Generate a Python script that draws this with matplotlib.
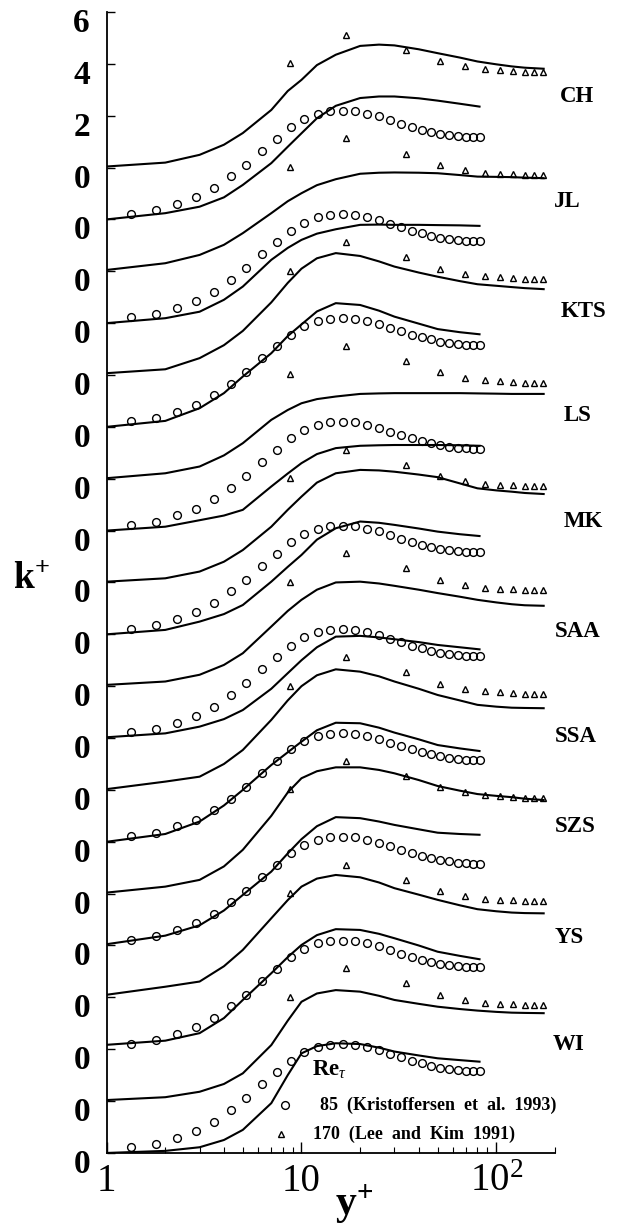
import numpy as np
import matplotlib
matplotlib.use("Agg")
import matplotlib.pyplot as plt
import matplotlib.transforms as mtransforms

# ---- DNS reference data -------------------------------------------------
# Kristoffersen et al. (1993), Re_tau = 85
dns85_y = [1.34, 1.79, 2.30, 2.87, 3.55, 4.34, 5.22, 6.28, 7.53, 8.81,
           10.3, 12.2, 14.0, 16.3, 18.9, 21.8, 25.0, 28.6, 32.6, 36.9,
           41.5, 46.4, 51.6, 57.1, 63.5, 69.6, 75.9, 82.1]
dns85_k = [0.22, 0.35, 0.59, 0.85, 1.21, 1.66, 2.11, 2.65, 3.11, 3.56,
           3.88, 4.08, 4.17, 4.19, 4.17, 4.08, 3.97, 3.82, 3.69, 3.56,
           3.46, 3.37, 3.29, 3.24, 3.20, 3.17, 3.16, 3.16]

# Lee and Kim (1991), Re_tau = 170
dns170_y = [8.7, 17.0, 34.5, 51.6, 69.4, 87.1, 104, 121.6, 139.7, 155.9, 173.4]
dns170_k = [4.02, 5.12, 4.54, 4.10, 3.90, 3.80, 3.76, 3.74, 3.70, 3.70, 3.70]

# ---- model predictions ---------------------------------------------------
y85 = [1, 2, 3, 4, 5, 7, 8.5, 10, 12, 15, 20, 25, 30, 40, 50, 65, 82]
y170 = [1, 2, 3, 4, 5, 7, 8.5, 10, 12, 15, 20, 25, 30, 40, 50, 65, 80,
        100, 120, 140, 175]

wi_85 = [0.00, 0.08, 0.22, 0.50, 0.89, 1.92, 3.00, 3.84, 4.12, 4.23, 4.20,
         4.06, 3.91, 3.76, 3.65, 3.58, 3.52]
wi_170 = [0.04, 0.15, 0.36, 0.66, 1.07, 2.16, 3.10, 3.83, 4.15, 4.28, 4.22,
          4.06, 3.90, 3.75, 3.64, 3.55, 3.49, 3.44, 3.41, 3.40, 3.39]
ys_85 = [0.17, 0.33, 0.62, 1.20, 1.90, 2.93, 3.55, 4.02, 4.40, 4.63, 4.60,
         4.45, 4.28, 4.00, 3.76, 3.60, 3.47]
ys_170 = [0.10, 0.41, 0.61, 1.20, 1.83, 3.05, 3.75, 4.27, 4.58, 4.72, 4.63,
          4.43, 4.21, 3.96, 3.76, 3.55, 3.40, 3.32, 3.27, 3.25, 3.24]
szs_85 = [0.05, 0.38, 0.78, 1.35, 1.95, 2.85, 3.55, 4.10, 4.60, 4.95, 4.91,
          4.78, 4.65, 4.48, 4.35, 4.30, 4.27]
szs_170 = [0.04, 0.27, 0.53, 1.05, 1.69, 3.00, 3.90, 4.45, 4.72, 4.87, 4.87,
           4.77, 4.64, 4.38, 4.15, 3.97, 3.84, 3.77, 3.72, 3.66, 3.61]
ssa_85 = [0.00, 0.30, 0.78, 1.40, 2.00, 2.96, 3.45, 3.86, 4.30, 4.59, 4.57,
          4.40, 4.21, 3.95, 3.73, 3.60, 3.50]
ssa_170 = [0.03, 0.32, 0.51, 1.00, 1.54, 2.70, 3.45, 4.00, 4.42, 4.65, 4.56,
           4.38, 4.18, 3.90, 3.66, 3.45, 3.28, 3.21, 3.17, 3.16, 3.15]
saa_85 = [0.03, 0.18, 0.44, 0.73, 1.08, 1.90, 2.50, 3.00, 3.50, 3.91, 3.94,
          3.88, 3.81, 3.70, 3.59, 3.50, 3.42]
saa_170 = [0.05, 0.18, 0.44, 0.82, 1.27, 2.30, 2.90, 3.33, 3.72, 4.00, 4.03,
           3.96, 3.87, 3.72, 3.59, 3.45, 3.33, 3.23, 3.16, 3.12, 3.10]
mk_85 = [0.00, 0.17, 0.49, 0.78, 1.13, 2.03, 2.60, 3.06, 3.65, 4.09, 4.35,
         4.30, 4.22, 4.08, 3.96, 3.86, 3.79]
mk_170 = [0.03, 0.16, 0.42, 0.80, 1.25, 2.15, 2.80, 3.31, 3.85, 4.21, 4.34,
          4.32, 4.27, 4.16, 4.06, 3.82, 3.63, 3.55, 3.50, 3.45, 3.41]
ls_85 = [0.00, 0.15, 0.40, 0.58, 0.80, 1.70, 2.20, 2.60, 2.95, 3.18, 3.27,
         3.29, 3.30, 3.30, 3.30, 3.29, 3.27]
ls_170 = [0.02, 0.21, 0.47, 0.90, 1.37, 2.27, 2.65, 2.91, 3.07, 3.17, 3.27,
          3.29, 3.30, 3.30, 3.30, 3.30, 3.29, 3.28, 3.27, 3.27, 3.27]
kts_85 = [0.00, 0.23, 0.72, 1.30, 1.94, 2.84, 3.50, 3.95, 4.45, 4.77, 4.70,
          4.48, 4.25, 3.98, 3.77, 3.65, 3.57]
kts_170 = [0.07, 0.22, 0.65, 1.15, 1.70, 2.80, 3.55, 4.10, 4.50, 4.70, 4.59,
           4.38, 4.18, 3.95, 3.79, 3.62, 3.50, 3.44, 3.39, 3.35, 3.31]
jl_85 = [0.00, 0.19, 0.44, 0.90, 1.41, 2.44, 2.90, 3.21, 3.45, 3.62, 3.79,
         3.80, 3.79, 3.79, 3.78, 3.77, 3.75]
jl_170 = [0.05, 0.31, 0.63, 1.02, 1.47, 2.24, 2.70, 3.01, 3.32, 3.55, 3.76,
          3.80, 3.81, 3.80, 3.78, 3.71, 3.65, 3.64, 3.63, 3.61, 3.59]
ch_85 = [0.00, 0.24, 0.49, 0.85, 1.33, 2.17, 2.80, 3.32, 3.90, 4.38, 4.68,
         4.74, 4.74, 4.67, 4.58, 4.46, 4.35]
ch_170 = [0.04, 0.19, 0.49, 0.88, 1.33, 2.22, 2.95, 3.38, 3.95, 4.35, 4.69,
          4.74, 4.71, 4.56, 4.41, 4.24, 4.09, 3.98, 3.90, 3.85, 3.81]

models = ["WI", "YS", "SZS", "SSA", "SAA", "MK", "LS", "KTS", "JL", "CH"]
runs_85 = [wi_85, ys_85, szs_85, ssa_85, saa_85, mk_85, ls_85, kts_85, jl_85, ch_85]
runs_170 = [wi_170, ys_170, szs_170, ssa_170, saa_170, mk_170, ls_170, kts_170,
            jl_170, ch_170]

yticks = list(range(0, 46, 2))
ytick_labels = ["0"] * 20 + ["2", "4", "6"]

# ---- layout ---------------------------------------------------------------
label_x = [0.994, 1.000, 1.000, 1.000, 1.000, 1.020, 1.020, 1.012, 0.997, 1.012]
label_y = [4.17, 8.32, 12.58, 16.05, 20.10, 24.34, 28.43, 32.45, 36.68, 40.73]

plt.rcParams["font.family"] = ["Liberation Serif", "DejaVu Serif"]
plt.rcParams["mathtext.fontset"] = "custom"
plt.rcParams["mathtext.rm"] = "Liberation Serif"
plt.rcParams["mathtext.it"] = "Liberation Serif:italic"
plt.rcParams["mathtext.bf"] = "Liberation Serif:bold"

fig = plt.figure(figsize=(6.2, 12.31), dpi=100)
ax = fig.add_axes([0.172, 0.0634, 0.7231, 0.9269])

line_kw = dict(color="black", lw=1.5, solid_joinstyle="round")
circ_kw = dict(ls="none", marker="o", ms=5.6, mfc="none", mec="black", mew=1.0)
tri_kw = dict(ls="none", marker="^", ms=4.6, mfc="none", mec="black", mew=1.0)

for i, (k85, k170) in enumerate(zip(runs_85, runs_170)):
    base85 = 4 * i
    base170 = 4 * i + 2
    ax.plot(y85, np.asarray(k85) + base85, **line_kw)
    ax.plot(y170, np.asarray(k170) + base170, **line_kw)
    ax.plot(dns85_y, np.asarray(dns85_k) + base85, **circ_kw)
    ax.plot(dns170_y, np.asarray(dns170_k) + base170, **tri_kw)

# model names at the right-hand side
blend = mtransforms.blended_transform_factory(ax.transAxes, ax.transData)
for name, lx, ly in zip(models, label_x, label_y):
    ax.text(lx, ly, name, transform=blend, ha="left", va="center",
            fontsize=16.5, fontweight="bold", clip_on=False)

# legend block
ax.text(0.458, 0.0727, r"$\mathbf{Re}_{\tau}$", transform=ax.transAxes,
        ha="left", va="center", fontsize=16.5)
ax.plot([0.398], [0.042], transform=ax.transAxes, clip_on=False, **circ_kw)
ax.plot([0.390], [0.0165], transform=ax.transAxes, clip_on=False, **tri_kw)
ax.text(0.476, 0.042, "85  (Kristoffersen  et  al.  1993)", transform=ax.transAxes,
        ha="left", va="center", fontsize=13, fontweight="bold")
ax.text(0.460, 0.0165, "170  (Lee  and  Kim  1991)", transform=ax.transAxes,
        ha="left", va="center", fontsize=13, fontweight="bold")

# axes
ax.set_xscale("log")
ax.set_xlim(1, 200)
ax.set_ylim(0, 44)
ax.set_xticks([1, 10, 100])
ax.set_xticklabels(["1", "10", r"$\mathregular{10^2}$"])
ax.set_yticks(yticks)
ax.set_yticklabels(ytick_labels)
ax.tick_params(axis="x", which="major", direction="in", length=8, width=1.0,
               labelsize=28, pad=7)
ax.tick_params(axis="x", which="minor", direction="in", length=4, width=0.8)
ax.tick_params(axis="y", which="major", direction="in", length=6, width=1.0,
               labelsize=24, pad=12)
for lab in ax.get_yticklabels():
    lab.set_fontweight("bold")
    lab.set_transform(lab.get_transform() +
                      mtransforms.ScaledTranslation(0, -0.08, fig.dpi_scale_trans))

for side in ("top", "right"):
    ax.spines[side].set_visible(False)
for side in ("left", "bottom"):
    ax.spines[side].set_linewidth(1.3)

fig.text(0.021, 0.522, r"$\mathbf{k}^{\mathbf{+}}$", ha="left", va="baseline",
         fontsize=27)
fig.text(0.540, 0.013, r"$\mathbf{y}^{\mathbf{+}}$", ha="left", va="baseline",
         fontsize=30)

fig.savefig("out.png", dpi=100)
